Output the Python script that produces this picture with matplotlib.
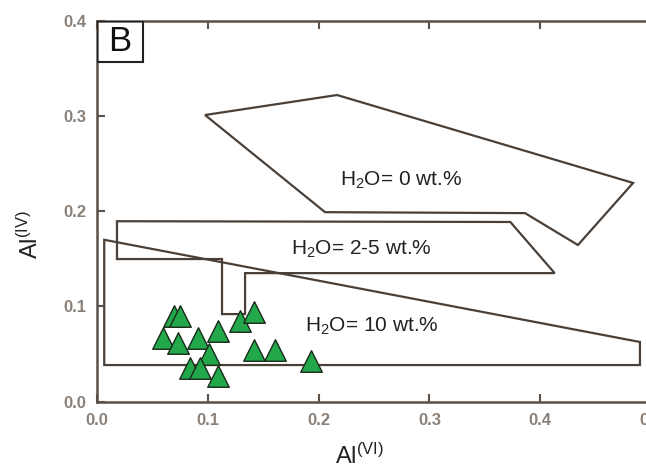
import matplotlib.pyplot as plt
from matplotlib.patches import Polygon, Rectangle

plt.rcParams['font.family'] = ['Liberation Sans', 'DejaVu Sans']
plt.rcParams['mathtext.fontset'] = 'custom'
plt.rcParams['mathtext.rm'] = 'Liberation Sans'
plt.rcParams['mathtext.default'] = 'regular'

# sample points (Al VI, Al IV)
al_vi = [0.0695, 0.0749, 0.0596, 0.0731, 0.0912, 0.1092, 0.1291, 0.1417,
         0.1011, 0.0839, 0.0930, 0.1092, 0.1417, 0.1606, 0.1931]
al_iv = [0.090, 0.090, 0.0669, 0.0616, 0.0674, 0.0742, 0.0847, 0.0942,
         0.0501, 0.0354, 0.0354, 0.0265, 0.0543, 0.0538, 0.0427]

# field outlines
h2o_0_x = [0.0975, 0.2166, 0.4838, 0.434, 0.3863, 0.2058]
h2o_0_y = [0.301, 0.322, 0.2297, 0.1645, 0.198, 0.199]
h2o_25_x = [0.018, 0.373, 0.413, 0.1336, 0.1336, 0.1128, 0.1128, 0.018]
h2o_25_y = [0.1895, 0.1887, 0.135, 0.135, 0.092, 0.092, 0.1498, 0.1498]
h2o_10_x = [0.0065, 0.0065, 0.490, 0.490]
h2o_10_y = [0.170, 0.0385, 0.0385, 0.0627]

line_col = '#4a4038'
spine_col = '#5a5048'
tick_col = '#8a8078'

fig = plt.figure(figsize=(6.46, 4.70), dpi=100)
ax = fig.add_axes([0.1502, 0.1453, 0.8576, 0.8106])

for xs, ys in [(h2o_0_x, h2o_0_y), (h2o_25_x, h2o_25_y), (h2o_10_x, h2o_10_y)]:
    ax.add_patch(Polygon(list(zip(xs, ys)), closed=True, fill=False,
                         edgecolor=line_col, lw=1.6, joinstyle='miter'))

ax.scatter(al_vi, al_iv, marker='^', s=240, color='#22a84a',
           edgecolor='#1a2a1a', linewidths=1.0, zorder=3)

ax.text(0.219, 0.232, 'H$_2$O= 0 wt.%', fontsize=15, color='#222222',
        ha='left', va='center')
ax.text(0.1755, 0.160, 'H$_2$O= 2-5 wt.%', fontsize=15, color='#222222',
        ha='left', va='center')
ax.text(0.1877, 0.0795, 'H$_2$O= 10 wt.%', fontsize=15, color='#222222',
        ha='left', va='center')

# panel tag
ax.add_patch(Rectangle((0, 0.357), 0.0415, 0.043, fill=False,
                       edgecolor='#222222', lw=1.5, zorder=4))
ax.text(0.0205, 0.3785, 'B', fontsize=25, ha='center', va='center',
        color='#111111')

ax.set_xlim(0, 0.5)
ax.set_ylim(0, 0.4)
ax.set_xticks([0.0, 0.1, 0.2, 0.3, 0.4, 0.5])
ax.set_yticks([0.0, 0.1, 0.2, 0.3, 0.4])
ax.set_xticklabels(['0.0', '0.1', '0.2', '0.3', '0.4', '0.5'])
ax.set_yticklabels(['0.0', '0.1', '0.2', '0.3', '0.4'])
ax.tick_params(direction='in', length=6, width=1.5, color=spine_col,
               labelsize=12, labelcolor=tick_col, top=True, pad=8)
for lab in ax.get_xticklabels() + ax.get_yticklabels():
    lab.set_fontweight('bold')

for side in ['left', 'top', 'bottom']:
    ax.spines[side].set_color(spine_col)
    ax.spines[side].set_linewidth(1.8)
ax.spines['right'].set_visible(False)

fig.text(0.557, 0.03, 'Al$^{(VI)}$', fontsize=17, ha='center', va='center',
         color='#222222')
fig.text(0.047, 0.5, 'Al$^{(IV)}$', fontsize=17, ha='center', va='center',
         rotation=90, color='#222222')

fig.savefig('out.png', dpi=100)
